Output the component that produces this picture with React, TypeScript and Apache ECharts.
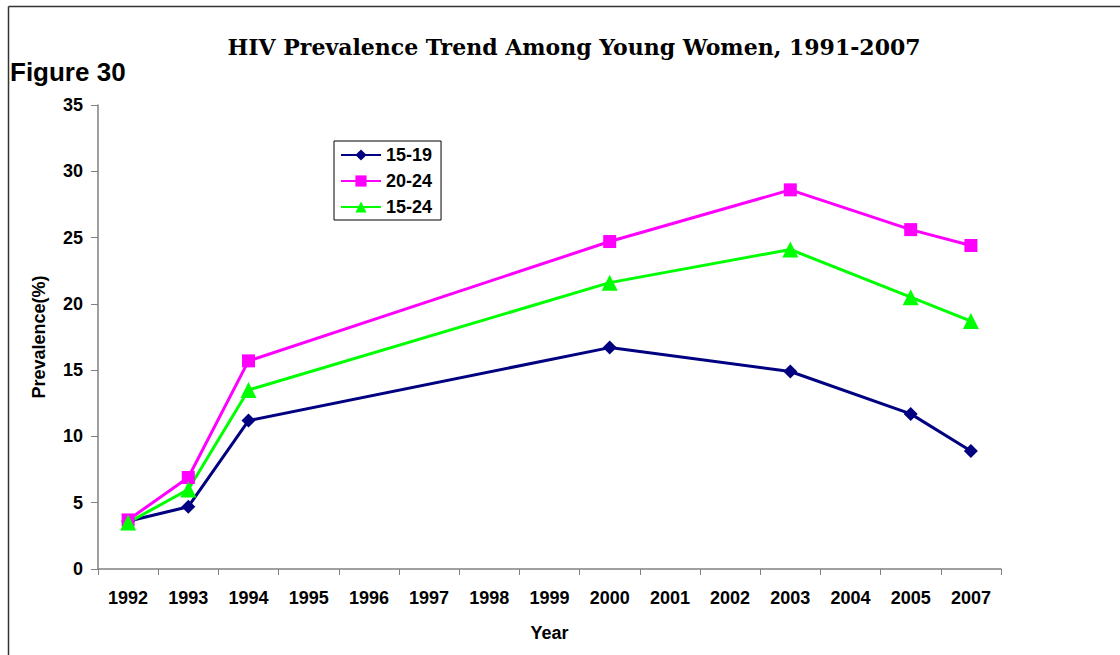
import React, { useEffect, useRef } from "react";
import * as echarts from "echarts";

const years = ["1992", "1993", "1994", "1995", "1996", "1997", "1998", "1999", "2000", "2001", "2002", "2003", "2004", "2005", "2007"];
const s1519 = [3.6, 4.7, 11.2, null, null, null, null, null, 16.7, null, null, 14.9, null, 11.7, 8.9];
const s2024 = [3.7, 6.9, 15.7, null, null, null, null, null, 24.7, null, null, 28.6, null, 25.6, 24.4];
const s1524 = [3.5, 6.0, 13.5, null, null, null, null, null, 21.6, null, null, 24.1, null, 20.5, 18.7];

export default function App() {
  const ref = useRef<HTMLDivElement>(null);
  useEffect(() => {
    const chart = echarts.init(ref.current!, null, { renderer: "svg" });
    const lab = { fontFamily: "Liberation Sans, Arial, sans-serif", fontWeight: "bold" as const, fontSize: 18, color: "#000" };
    chart.setOption({
      animation: false,
      backgroundColor: "#fff",
      title: {
        text: "HIV Prevalence Trend Among Young Women, 1991-2007",
        left: 569,
        top: 31,
        textAlign: "center",
        textStyle: { fontFamily: "DejaVu Serif", fontWeight: "bold", fontSize: 22, color: "#000" },
      },
      graphic: [
        { type: "line", shape: { x1: 8.5, y1: 6.5, x2: 1120, y2: 6.5 }, style: { stroke: "#333", lineWidth: 1.5 } },
        { type: "line", shape: { x1: 8.5, y1: 6.5, x2: 8.5, y2: 655 }, style: { stroke: "#333", lineWidth: 1.5 } },
        {
          type: "text",
          left: 10,
          top: 59,
          style: { text: "Figure 30", font: "bold 26px 'Liberation Sans', Arial, sans-serif", fill: "#000" },
        },
      ],
      legend: {
        orient: "vertical",
        left: 334,
        top: 141,
        itemWidth: 40,
        itemHeight: 14,
        itemGap: 8,
        padding: [5, 9, 4, 6],
        borderColor: "#000",
        borderWidth: 1,
        textStyle: { ...lab, fontSize: 18 },
        data: ["15-19", "20-24", "15-24"],
      },
      grid: { left: 98, right: 119, top: 105, bottom: 86 },
      xAxis: {
        type: "category",
        data: years,
        boundaryGap: true,
        name: "Year",
        nameLocation: "middle",
        nameGap: 55,
        nameTextStyle: lab,
        axisLine: { lineStyle: { color: "#808080", width: 1.5 } },
        axisTick: { show: true, length: 6, lineStyle: { color: "#808080" } },
        axisLabel: { ...lab, margin: 20 },
      },
      yAxis: {
        type: "value",
        min: 0,
        max: 35,
        interval: 5,
        name: "Prevalence(%)",
        nameLocation: "middle",
        nameGap: 50,
        nameRotate: 90,
        nameTextStyle: lab,
        splitLine: { show: false },
        axisLine: { show: true, lineStyle: { color: "#808080", width: 1.5 } },
        axisTick: { show: true, length: 7, lineStyle: { color: "#808080" } },
        axisLabel: { ...lab, margin: 15 },
      },
      series: [
        {
          name: "15-19",
          type: "line",
          data: s1519,
          connectNulls: true,
          symbol: "diamond",
          symbolSize: 14,
          lineStyle: { color: "#000080", width: 3 },
          itemStyle: { color: "#000080" },
        },
        {
          name: "20-24",
          type: "line",
          data: s2024,
          connectNulls: true,
          symbol: "rect",
          symbolSize: 13,
          lineStyle: { color: "#FF00FF", width: 3 },
          itemStyle: { color: "#FF00FF" },
        },
        {
          name: "15-24",
          type: "line",
          data: s1524,
          connectNulls: true,
          symbol: "triangle",
          symbolSize: 16,
          lineStyle: { color: "#00FF00", width: 3 },
          itemStyle: { color: "#00FF00" },
        },
      ],
    });
    return () => chart.dispose();
  }, []);
  return <div ref={ref} style={{ position: "absolute", left: 0, top: 0, width: 1120, height: 655 }} />;
}
